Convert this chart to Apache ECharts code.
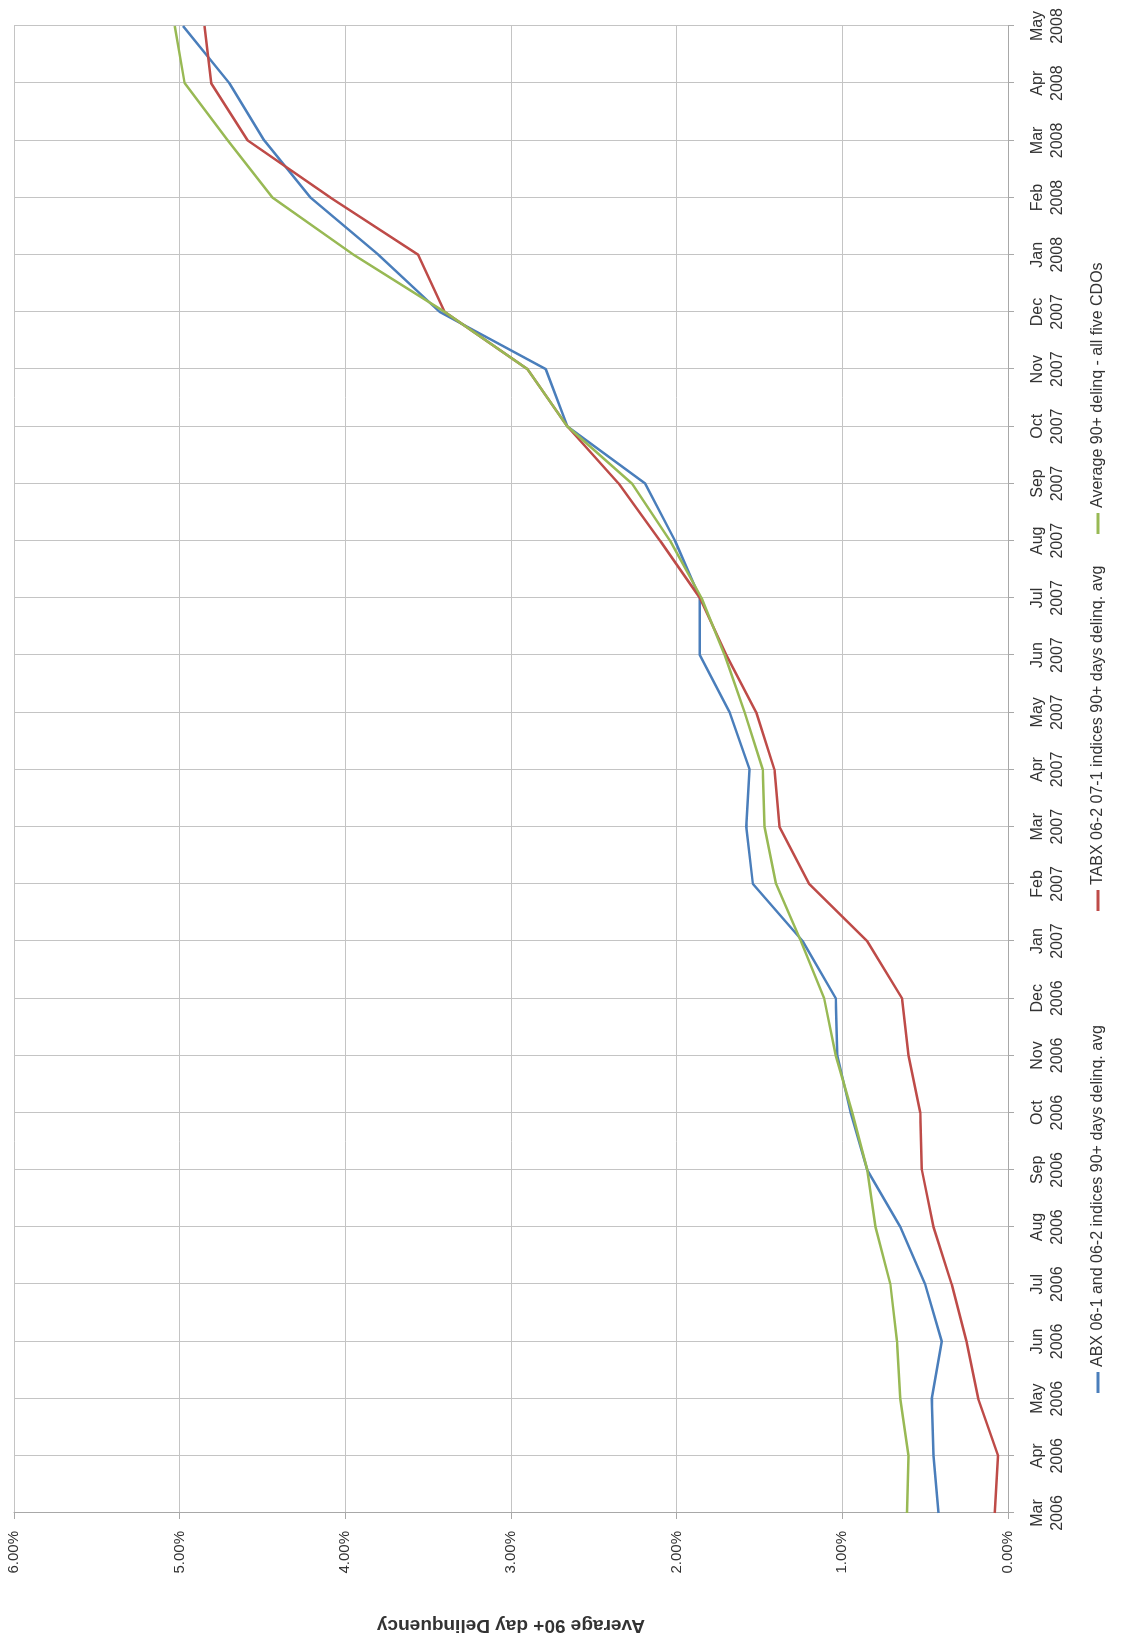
<!DOCTYPE html>
<html>
<head>
<meta charset="utf-8">
<script src="https://cdn.jsdelivr.net/npm/echarts@6/dist/echarts.min.js"></script>
<style>
  html, body { margin: 0; padding: 0; width: 1123px; height: 1643px; overflow: hidden; background: #fff; }
  #chart {
    position: absolute; left: 0; top: 0;
    width: 1643px; height: 1123px;
    transform-origin: 0 0;
    transform: rotate(-90deg) translateX(-1643px);
  }
</style>
</head>
<body>
<div id="chart"></div>
<script>
// Months (category axis)
const categories = [
  'Mar 2006','Apr 2006','May 2006','Jun 2006','Jul 2006','Aug 2006','Sep 2006','Oct 2006','Nov 2006','Dec 2006',
  'Jan 2007','Feb 2007','Mar 2007','Apr 2007','May 2007','Jun 2007','Jul 2007','Aug 2007','Sep 2007','Oct 2007',
  'Nov 2007','Dec 2007','Jan 2008','Feb 2008','Mar 2008','Apr 2008','May 2008'
];
// Series values in percent
const abxValues = [
  0.42, 0.45, 0.46, 0.40, 0.50, 0.65, 0.85, 0.95, 1.03, 1.04,
  1.24, 1.54, 1.58, 1.56, 1.68, 1.86, 1.86, 2.01, 2.19, 2.66,
  2.79, 3.43, 3.80, 4.21, 4.49, 4.70, 4.98
];
const tabxValues = [
  0.08, 0.06, 0.18, 0.25, 0.34, 0.45, 0.52, 0.53, 0.60, 0.64,
  0.85, 1.20, 1.38, 1.41, 1.52, 1.70, 1.86, 2.10, 2.35, 2.66,
  2.90, 3.40, 3.56, 4.09, 4.59, 4.81, 4.85
];
const avgValues = [
  0.61, 0.60, 0.65, 0.67, 0.71, 0.80, 0.85, 0.94, 1.04, 1.11,
  1.25, 1.40, 1.47, 1.48, 1.59, 1.71, 1.85, 2.04, 2.27, 2.66,
  2.90, 3.40, 3.95, 4.44, 4.71, 4.97, 5.03
];
const seriesNames = [
  'ABX 06-1 and 06-2 indices 90+ days delinq. avg',
  'TABX 06-2 07-1 indices 90+ days delinq. avg',
  'Average 90+ delinq - all five CDOs'
];
const seriesColors = ['#4a7ebb', '#be4b48', '#98b954'];
const valueTicks = [0, 1, 2, 3, 4, 5, 6];
const axisTitle = 'Average 90+ day Delinquency';

const chart = echarts.init(document.getElementById('chart'), null, { renderer: 'canvas' });
const fontFam = '"Liberation Sans", Arial, sans-serif';
const gridColor = '#c4c4c4';

const legendLefts = [250, 732, 1109];
const option = {
  backgroundColor: '#ffffff',
  animation: false,
  textStyle: { fontFamily: fontFam },
  grid: { left: 127, right: 26, top: 14, bottom: 115, containLabel: false },
  legend: seriesNames.map((n, i) => ({
    data: [n],
    left: legendLefts[i],
    top: 1090,
    padding: 0,
    icon: 'rect',
    itemWidth: 21,
    itemHeight: 3,
    itemGap: 4,
    textStyle: { fontSize: 16, color: '#333', fontFamily: fontFam }
  })),
  xAxis: {
    type: 'category',
    data: categories,
    boundaryGap: false,
    axisLine: { show: true, lineStyle: { color: '#a8a8a8', width: 1 } },
    axisTick: { show: true, interval: 0, length: 6, lineStyle: { color: '#a8a8a8' } },
    axisLabel: {
      interval: 0, fontSize: 16, lineHeight: 20, margin: 20, color: '#333',
      formatter: v => v.replace(' ', '\n')
    },
    splitLine: { show: true, interval: 0, lineStyle: { color: gridColor, width: 1 } }
  },
  yAxis: {
    type: 'value',
    min: valueTicks[0],
    max: valueTicks[valueTicks.length - 1],
    interval: 1,
    name: axisTitle,
    nameLocation: 'middle',
    nameGap: 103,
    nameTextStyle: { fontSize: 19, fontWeight: 'bold', color: '#333', fontFamily: fontFam },
    axisLine: { show: true, lineStyle: { color: '#a8a8a8', width: 1 } },
    axisTick: { show: true, length: 6, lineStyle: { color: '#a8a8a8' } },
    axisLabel: {
      fontSize: 15, margin: 18, color: '#333',
      formatter: v => v.toFixed(2) + '%'
    },
    splitLine: { show: true, lineStyle: { color: gridColor, width: 1 } }
  },
  series: [abxValues, tabxValues, avgValues].map((d, i) => ({
    name: seriesNames[i],
    type: 'line',
    data: d,
    symbol: 'none',
    lineStyle: { color: seriesColors[i], width: 2.5 },
    itemStyle: { color: seriesColors[i] },
    z: 3 + i
  }))
};
chart.setOption(option);
</script>
</body>
</html>
